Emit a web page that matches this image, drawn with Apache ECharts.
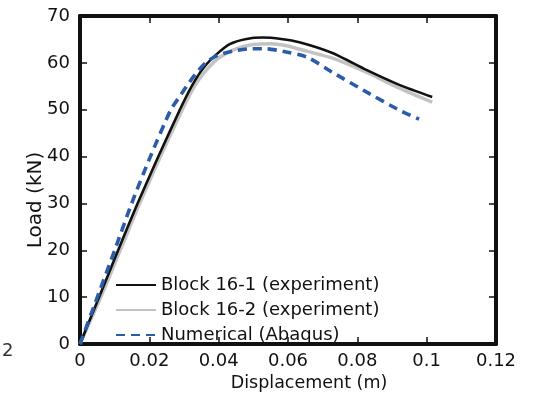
<!DOCTYPE html>
<html>
<head>
<meta charset="utf-8">
<script src="https://cdn.jsdelivr.net/npm/echarts@6/dist/echarts.min.js"></script>
<style>
html,body{margin:0;padding:0;background:#fff;}
#chart{width:536px;height:397px;}
</style>
</head>
<body>
<div id="chart"></div>
<script>
// Tick labels
const xTicks = [0, 0.02, 0.04, 0.06, 0.08, 0.1, 0.12];
const yTicks = [0, 10, 20, 30, 40, 50, 60, 70];

// Series names
const seriesNames = ['Block 16-1 (experiment)', 'Block 16-2 (experiment)', 'Numerical (Abaqus)'];

// Block 16-1 (experiment)
const block1Disp = [0, 0.0055, 0.011, 0.0166, 0.0226, 0.0288, 0.0322, 0.0357, 0.0392, 0.0432, 0.048, 0.0527, 0.058, 0.0633, 0.0728, 0.0826, 0.0921, 0.1016];
const block1Load = [0, 10, 20, 30, 40, 50, 55, 59, 61.7, 64.0, 65.1, 65.4, 65.1, 64.4, 62.1, 58.5, 55.3, 52.7];

// Block 16-2 (experiment)
const block2Disp = [0, 0.006, 0.0116, 0.0172, 0.0232, 0.0295, 0.033, 0.0366, 0.0403, 0.045, 0.050, 0.055, 0.060, 0.0633, 0.0728, 0.0826, 0.0921, 0.1016];
const block2Load = [0, 10, 20, 30, 40, 50, 55, 58.6, 61.2, 63.0, 63.9, 64.1, 63.6, 62.9, 61.0, 58.0, 54.6, 51.6];

// Numerical (Abaqus)
const numDisp = [0, 0.005, 0.0100, 0.0149, 0.0203, 0.0262, 0.0292, 0.0312, 0.0337, 0.0365, 0.0397, 0.044, 0.049, 0.0538, 0.0584, 0.0656, 0.0728, 0.0826, 0.0921, 0.0978];
const numLoad = [0, 10, 20, 30, 40, 50, 53.3, 55.5, 58, 60.2, 61.6, 62.5, 63.0, 63.0, 62.5, 61.2, 58.0, 53.8, 49.9, 48.0];

const zip = (xs, ys) => xs.map((x, i) => [x, ys[i]]);

const FONT = 'DejaVu Sans';
const chart = echarts.init(document.getElementById('chart'), null, {renderer: 'canvas'});

const lineCommon = {show: true, onZero: false, lineStyle: {color: '#111', width: 4}};
const tickCommon = {show: true, inside: true, length: 7, lineStyle: {color: '#111', width: 1.5}};

chart.setOption({
  animation: false,
  backgroundColor: '#fff',
  textStyle: {fontFamily: FONT},
  grid: {left: 80, right: 40, top: 16, bottom: 53},
  legend: {
    orient: 'vertical', left: 110, top: 271,
    itemWidth: 40, itemHeight: 18, itemGap: 7,
    itemStyle: {opacity: 0},
    textStyle: {fontFamily: FONT, fontSize: 18, color: '#111'},
    data: seriesNames
  },
  xAxis: [{
    type: 'value', min: 0, max: 0.12, interval: 0.02,
    position: 'bottom',
    axisLine: lineCommon,
    axisTick: tickCommon,
    splitLine: {show: false},
    axisLabel: {fontFamily: FONT, fontSize: 18, color: '#111', margin: 8,
      formatter: v => { const t = xTicks.find(k => Math.abs(k - v) < 1e-9); return t === undefined ? '' : String(t); }},
    name: 'Displacement (m)', nameLocation: 'middle', nameGap: 30, nameMoveOverlap: false,
    nameTextStyle: {fontFamily: FONT, fontSize: 17.5, color: '#111', padding: [0, 0, 0, 42]}
  }, {
    type: 'value', min: 0, max: 0.12, interval: 0.02,
    position: 'top',
    axisLine: lineCommon,
    axisTick: tickCommon,
    axisLabel: {show: false},
    splitLine: {show: false}
  }],
  yAxis: [{
    type: 'value', min: 0, max: 70, interval: 10,
    position: 'left',
    axisLine: lineCommon,
    axisTick: tickCommon,
    splitLine: {show: false},
    axisLabel: {fontFamily: FONT, fontSize: 18, color: '#111', margin: 10,
      formatter: v => { const t = yTicks.find(k => k === v); return t === undefined ? '' : String(t); }},
    name: 'Load (kN)', nameLocation: 'middle', nameGap: 34, nameRotate: 90, nameMoveOverlap: false,
    nameTextStyle: {fontFamily: FONT, fontSize: 20, color: '#111', padding: [0, 40, 0, 0]}
  }, {
    type: 'value', min: 0, max: 70, interval: 10,
    position: 'right',
    axisLine: lineCommon,
    axisTick: tickCommon,
    axisLabel: {show: false},
    splitLine: {show: false}
  }],
  graphic: [{
    type: 'text', left: 2, top: 342,
    style: {text: '2', font: '18px "DejaVu Sans"', fill: '#333'}
  }],
  series: [{
    name: seriesNames[1], type: 'line', xAxisIndex: 0, yAxisIndex: 0,
    data: zip(block2Disp, block2Load), smooth: 0.2, symbol: 'none',
    lineStyle: {color: '#c3c3c3', width: 3.5}, itemStyle: {color: '#c3c3c3'}, z: 2
  }, {
    name: seriesNames[0], type: 'line', xAxisIndex: 0, yAxisIndex: 0,
    data: zip(block1Disp, block1Load), smooth: 0.2, symbol: 'none',
    lineStyle: {color: '#111', width: 2.6}, itemStyle: {color: '#111'}, z: 3
  }, {
    name: seriesNames[2], type: 'line', xAxisIndex: 0, yAxisIndex: 0,
    data: zip(numDisp, numLoad), smooth: 0.2, symbol: 'none',
    lineStyle: {color: '#2b5ca8', width: 3.6, type: [9, 6]}, itemStyle: {color: '#2b5ca8'}, z: 4
  }]
});
</script>
</body>
</html>
